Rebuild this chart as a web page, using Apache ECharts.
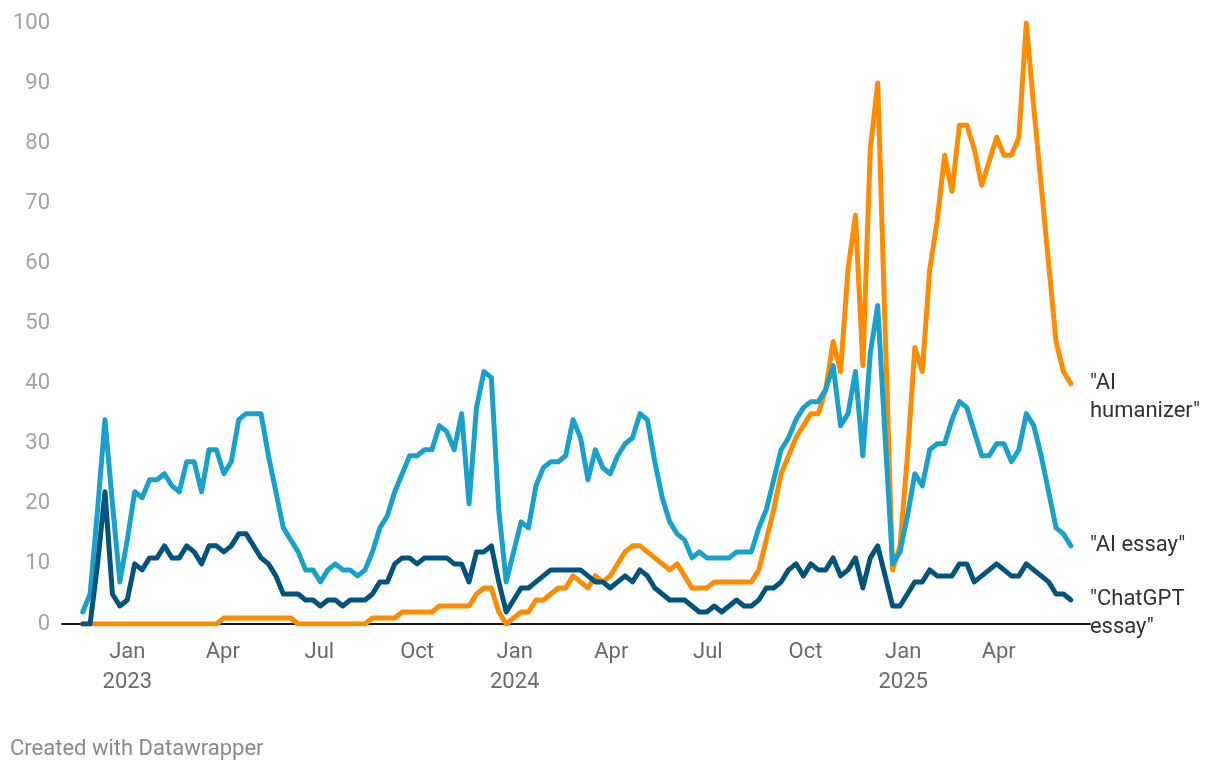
<!DOCTYPE html>
<html>
<head>
    <meta charset="UTF-8">
    <title>AI humanizer / AI essay / ChatGPT essay</title>
    <script src="https://cdn.jsdelivr.net/npm/echarts@6/dist/echarts.min.js"></script>
    <style>
        html, body { margin: 0; padding: 0; background: #fff; }
        #chart { width: 1220px; height: 770px; }
    </style>
</head>
<body>
<div id="chart"></div>
<script type="text/javascript">
    // weekly data, first week starts on this date
    var firstWeek = '2022-11-20';

    var aiHumanizer = [
        0, 0, 0, 0, 0, 0, 0, 0, 0, 0,
        0, 0, 0, 0, 0, 0, 0, 0, 0, 1,
        1, 1, 1, 1, 1, 1, 1, 1, 1, 0,
        0, 0, 0, 0, 0, 0, 0, 0, 0, 1,
        1, 1, 1, 2, 2, 2, 2, 2, 3, 3,
        3, 3, 3, 5, 6, 6, 2, 0, 1, 2,
        2, 4, 4, 5, 6, 6, 8, 7, 6, 8,
        7, 8, 10, 12, 13, 13, 12, 11, 10, 9,
        10, 8, 6, 6, 6, 7, 7, 7, 7, 7,
        7, 9, 14, 19, 25, 28, 31, 33, 35, 35,
        39, 47, 42, 59, 68, 43, 79, 90, 49, 9,
        13, 28, 46, 42, 59, 67, 78, 72, 83, 83,
        79, 73, 77, 81, 78, 78, 81, 100, 86, 73,
        60, 47, 42, 40
    ];

    var aiEssay = [
        2, 5, 19, 34, 20, 7, 14, 22, 21, 24,
        24, 25, 23, 22, 27, 27, 22, 29, 29, 25,
        27, 34, 35, 35, 35, 28, 22, 16, 14, 12,
        9, 9, 7, 9, 10, 9, 9, 8, 9, 12,
        16, 18, 22, 25, 28, 28, 29, 29, 33, 32,
        29, 35, 20, 36, 42, 41, 19, 7, 12, 17,
        16, 23, 26, 27, 27, 28, 34, 31, 24, 29,
        26, 25, 28, 30, 31, 35, 34, 27, 21, 17,
        15, 14, 11, 12, 11, 11, 11, 11, 12, 12,
        12, 16, 19, 24, 29, 31, 34, 36, 37, 37,
        39, 43, 33, 35, 42, 28, 45, 53, 31, 10,
        12, 18, 25, 23, 29, 30, 30, 34, 37, 36,
        32, 28, 28, 30, 30, 27, 29, 35, 33, 28,
        22, 16, 15, 13
    ];

    var chatgptEssay = [
        0, 0, 10, 22, 5, 3, 4, 10, 9, 11,
        11, 13, 11, 11, 13, 12, 10, 13, 13, 12,
        13, 15, 15, 13, 11, 10, 8, 5, 5, 5,
        4, 4, 3, 4, 4, 3, 4, 4, 4, 5,
        7, 7, 10, 11, 11, 10, 11, 11, 11, 11,
        10, 10, 7, 12, 12, 13, 7, 2, 4, 6,
        6, 7, 8, 9, 9, 9, 9, 9, 8, 7,
        7, 6, 7, 8, 7, 9, 8, 6, 5, 4,
        4, 4, 3, 2, 2, 3, 2, 3, 4, 3,
        3, 4, 6, 6, 7, 9, 10, 8, 10, 9,
        9, 11, 8, 9, 11, 6, 11, 13, 8, 3,
        3, 5, 7, 7, 9, 8, 8, 8, 10, 10,
        7, 8, 9, 10, 9, 8, 8, 10, 9, 8,
        7, 5, 5, 4
    ];

    var tickDates = ['2023-01-01', '2023-04-01', '2023-07-01', '2023-10-01',
        '2024-01-01', '2024-04-01', '2024-07-01', '2024-10-01',
        '2025-01-01', '2025-04-01'];
    var tickLabels = ['Jan\n2023', 'Apr', 'Jul', 'Oct',
        'Jan\n2024', 'Apr', 'Jul', 'Oct',
        'Jan\n2025', 'Apr'];

    var DAY = 86400000;

    function toTime(s) {
        var p = s.split('-');
        return Date.UTC(+p[0], +p[1] - 1, +p[2]);
    }

    var t0 = toTime(firstWeek);
    var weeks = aiEssay.map(function (v, i) { return t0 + i * 7 * DAY; });
    var tickTimes = tickDates.map(toTime);

    function pairs(values) {
        return values.map(function (v, i) { return [weeks[i], v]; });
    }

    function lineSeries(name, values, color, label) {
        return {
            name: name,
            type: 'line',
            data: pairs(values),
            showSymbol: false,
            symbol: 'none',
            lineStyle: { color: color, width: 5, cap: 'round', join: 'round' },
            itemStyle: { color: color },
            endLabel: {
                show: true,
                formatter: label,
                color: '#333333',
                fontFamily: 'Roboto',
                fontSize: 22,
                lineHeight: 28,
                align: 'left',
                verticalAlign: 'top',
                distance: 19,
                offset: [0, -14]
            }
        };
    }

    var chart = echarts.init(document.getElementById('chart'));

    var option = {
        animation: false,
        textStyle: { fontFamily: 'Roboto' },
        title: {
            text: 'Created with Datawrapper',
            left: 5,
            top: 733,
            textStyle: { color: '#8a8a8a', fontSize: 22, fontWeight: 'normal', fontFamily: 'Roboto' }
        },
        grid: { left: 62, right: 130, top: 23, bottom: 146 },
        xAxis: {
            type: 'value',
            min: t0 - 19.5 * DAY,
            max: weeks[weeks.length - 1] + 18 * DAY,
            axisLine: { show: true, onZero: true, lineStyle: { color: '#1a1a1a', width: 2 } },
            axisTick: { show: false },
            splitLine: { show: false },
            axisLabel: {
                customValues: tickTimes,
                color: '#6b6b6b',
                fontSize: 22,
                lineHeight: 30,
                margin: 13,
                formatter: function (value) {
                    for (var i = 0; i < tickTimes.length; i++) {
                        if (Math.abs(tickTimes[i] - value) < DAY) return tickLabels[i];
                    }
                    return '';
                }
            }
        },
        yAxis: {
            type: 'value',
            min: 0,
            max: 100,
            interval: 10,
            axisLine: { show: false },
            axisTick: { show: false },
            splitLine: { show: false },
            axisLabel: { color: '#a3a3a3', fontSize: 22, margin: 12 }
        },
        series: [
            lineSeries('AI humanizer', aiHumanizer, '#ff8c00', '"AI\nhumanizer"'),
            lineSeries('AI essay', aiEssay, '#18a1cd', '"AI essay"'),
            lineSeries('ChatGPT essay', chatgptEssay, '#02547f', '"ChatGPT\nessay"')
        ]
    };

    option && chart.setOption(option);
</script>
</body>
</html>
